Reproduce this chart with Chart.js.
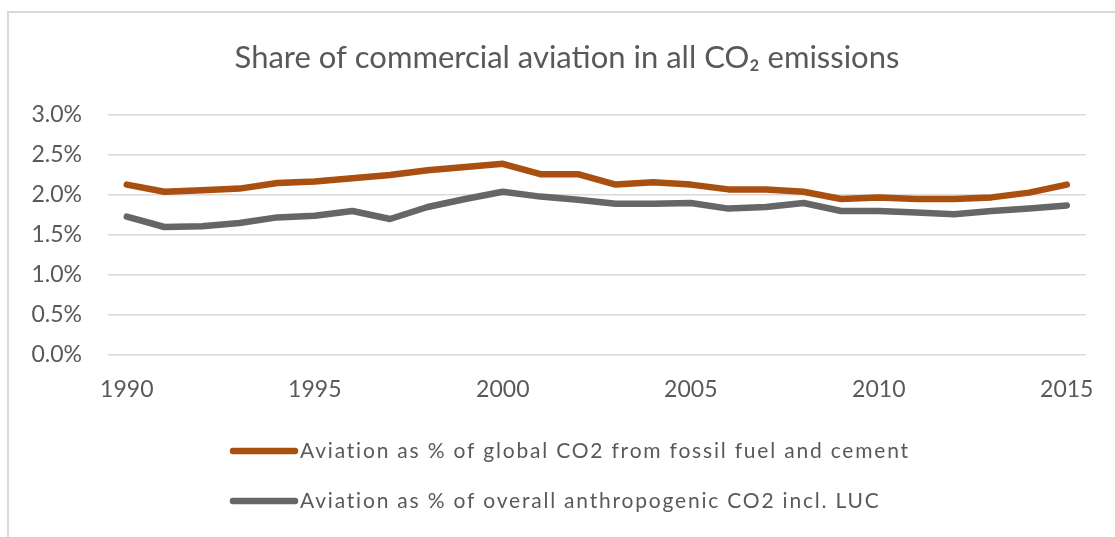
<!DOCTYPE html>
<html>
<head>
<meta charset="utf-8">
<script src="https://cdn.jsdelivr.net/npm/chart.js@4.4.1/dist/chart.umd.min.js"></script>
<style>
html,body{margin:0;padding:0;background:#fff;overflow:hidden;}
#frame{position:absolute;left:7px;top:11px;width:1200px;height:700px;border:2px solid #d9d9d9;}
#c{position:absolute;left:0;top:0;}
</style>
</head>
<body>
<div id="frame"></div>
<canvas id="c" width="1115" height="537"></canvas>
<script>
// values in percent
var years=['1990','1991','1992','1993','1994','1995','1996','1997','1998','1999','2000','2001','2002',
           '2003','2004','2005','2006','2007','2008','2009','2010','2011','2012','2013','2014','2015'];
var fossil=[2.13,2.04,2.06,2.08,2.15,2.17,2.21,2.25,2.31,2.35,2.39,2.26,2.26,
            2.13,2.16,2.13,2.07,2.07,2.04,1.95,1.97,1.95,1.95,1.97,2.03,2.13];
var overall=[1.73,1.60,1.61,1.65,1.72,1.74,1.80,1.70,1.85,1.95,2.04,1.98,1.94,
             1.89,1.89,1.90,1.83,1.85,1.90,1.80,1.80,1.78,1.76,1.80,1.83,1.87];
var seriesNames=['Aviation as % of global CO2 from fossil fuel and cement',
                 'Aviation as % of overall anthropogenic CO2 incl. LUC'];
var chartTitle='Share of commercial aviation in all CO\u2082 emissions';

var fontFam='Lato, "Open Sans", sans-serif';
var textCol='#595959';

// excel style legend, stacked rows starting at the same x
var sideLegend={
    id:'sideLegend',
    afterLayout:function(chart,args,opts){
        // title is centred on the whole frame, not on the plot
        chart.titleBlock.left+=opts.titleShift;
    },
    afterDraw:function(chart,args,opts){
        var ctx=chart.ctx;
        ctx.save();
        ctx.font='21px '+fontFam;
        ctx.letterSpacing='1.8px';
        ctx.textBaseline='middle';
        chart.data.datasets.forEach(function(ds,i){
            var y=opts.y+i*opts.gap;
            ctx.strokeStyle=ds.borderColor;
            ctx.lineWidth=ds.borderWidth;
            ctx.lineCap='round';
            ctx.beginPath();
            ctx.moveTo(opts.x,y);
            ctx.lineTo(opts.x+opts.len,y);
            ctx.stroke();
            ctx.fillStyle=textCol;
            ctx.fillText(ds.label,opts.x+opts.len+5,y);
        });
        ctx.restore();
    }
};

var ctx=document.getElementById('c').getContext('2d');
var myChart=new Chart(ctx,{
    type:'line',
    data:{
        labels:years,
        datasets:[
            {label:seriesNames[0],data:fossil,borderColor:'#a94f0f',borderWidth:6.5,
             pointRadius:0,tension:0,borderCapStyle:'round',borderJoinStyle:'round'},
            {label:seriesNames[1],data:overall,borderColor:'#666666',borderWidth:6.5,
             pointRadius:0,tension:0,borderCapStyle:'round',borderJoinStyle:'round'}
        ]
    },
    plugins:[sideLegend],
    options:{
        responsive:false,
        animation:false,
        layout:{padding:{left:0,right:28,top:0,bottom:122}},
        plugins:{
            legend:{display:false},
            tooltip:{enabled:false},
            title:{
                display:true,
                text:chartTitle,
                color:textCol,
                font:{family:fontFam,size:31,weight:'normal'},
                padding:{top:39.4,bottom:38.4}
            },
            sideLegend:{x:233,y:451,gap:50,len:62,titleShift:47}
        },
        scales:{
            x:{
                offset:true,
                grid:{display:false,drawTicks:false},
                border:{display:false},
                afterFit:function(s){s.height=60;},
                ticks:{
                    autoSkip:false,maxRotation:0,padding:21,color:textCol,
                    font:{family:fontFam,size:23},
                    callback:function(v,i){return years[i]%5===0?years[i]:'';}
                }
            },
            y:{
                min:0,max:3,
                grid:{color:'#d9d9d9',lineWidth:1.5,drawTicks:false},
                border:{display:false},
                afterFit:function(s){s.width=108;},
                ticks:{
                    stepSize:0.5,padding:26,color:textCol,
                    font:{family:fontFam,size:23},
                    callback:function(v){return v.toFixed(1)+'%';}
                }
            }
        }
    }
});
</script>
</body>
</html>
